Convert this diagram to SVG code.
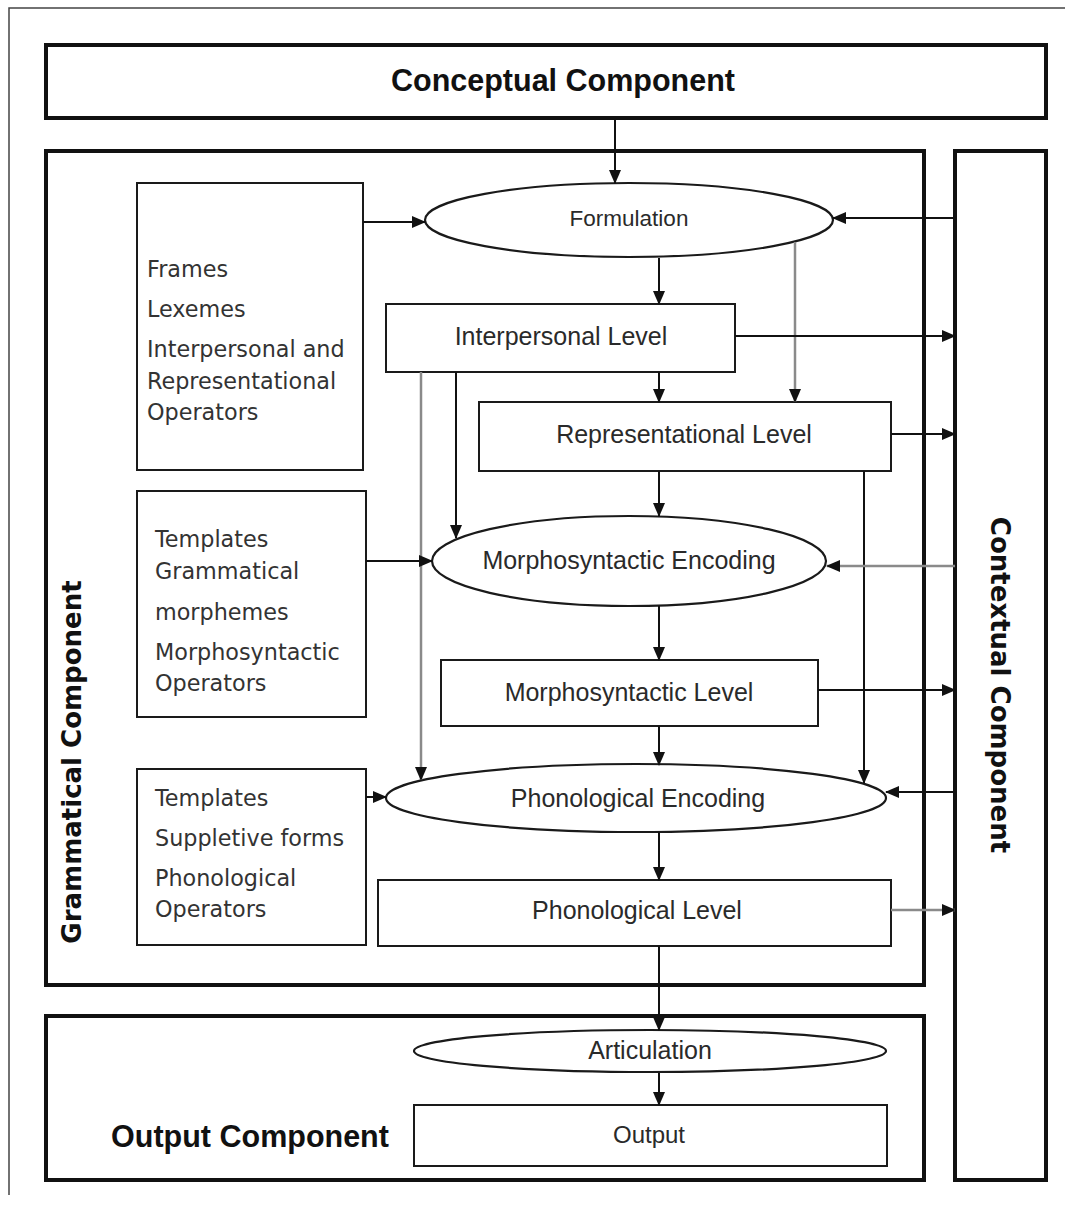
<svg xmlns="http://www.w3.org/2000/svg" width="1065" height="1209" viewBox="0 0 1065 1209">
<style>
.comp{fill:none;stroke:#111;stroke-width:4}
.node{fill:#fff;stroke:#1a1a1a;stroke-width:2}
.ell{fill:#fff;stroke:#1a1a1a;stroke-width:2.2}
.lab{font-family:"Liberation Sans",Arial,sans-serif;font-size:25px;fill:#2a2a2a;text-anchor:middle}
.side{font-family:"DejaVu Sans",Verdana,sans-serif;font-size:22.3px;fill:#333}
.big{font-family:"Liberation Sans",Arial,sans-serif;font-size:30.5px;font-weight:bold;fill:#111;text-anchor:middle}
.rot{font-family:"DejaVu Sans",Verdana,sans-serif;font-size:26px;font-weight:bold;fill:#111;text-anchor:middle}
.a{fill:none;stroke:#111;stroke-width:2;marker-end:url(#ah)}
.g{fill:none;stroke:#8a8a8a;stroke-width:2.5;marker-end:url(#ah)}
</style>
<defs>
<marker id="ah" markerUnits="userSpaceOnUse" markerWidth="14" markerHeight="12" refX="13" refY="6" orient="auto">
<path d="M0,0 L14,6 L0,12 Z" fill="#111"/>
</marker>
</defs>
<rect x="0" y="0" width="1065" height="1209" fill="#fff"/>
<path d="M9,1195 L9,8 L1065,8" fill="none" stroke="#444" stroke-width="1.5"/>

<g id="conceptual"><rect class="comp" x="46" y="45" width="1000" height="73"/><text class="big" x="563" y="91">Conceptual Component</text></g>
<g id="grammatical"><rect class="comp" x="46" y="151" width="878" height="834"/><text class="rot" transform="translate(81,762) rotate(-90)">Grammatical Component</text></g>
<g id="contextual"><rect class="comp" x="955" y="151" width="91" height="1029"/><text class="rot" transform="translate(991,685) rotate(90)">Contextual Component</text></g>
<g id="output-component"><rect class="comp" x="46" y="1016" width="878" height="164"/><text class="big" x="250" y="1147">Output Component</text></g>

<g id="frames"><rect class="node" x="137" y="183" width="226" height="287"/>
<text class="side" x="147" y="277">Frames</text><text class="side" x="147" y="317">Lexemes</text><text class="side" x="147" y="357">Interpersonal and</text><text class="side" x="147" y="389">Representational</text><text class="side" x="147" y="420">Operators</text></g>
<g id="templates1"><rect class="node" x="137" y="491" width="229" height="226"/>
<text class="side" x="155" y="547">Templates</text><text class="side" x="155" y="579">Grammatical</text><text class="side" x="155" y="620">morphemes</text><text class="side" x="155" y="660">Morphosyntactic</text><text class="side" x="155" y="691">Operators</text></g>
<g id="templates2"><rect class="node" x="137" y="769" width="229" height="176"/>
<text class="side" x="155" y="806">Templates</text><text class="side" x="155" y="846">Suppletive forms</text><text class="side" x="155" y="886">Phonological</text><text class="side" x="155" y="917">Operators</text></g>

<g id="formulation"><ellipse class="ell" cx="629" cy="220" rx="204" ry="37"/><text class="lab" x="629" y="226" style="font-size:22.5px">Formulation</text></g>
<g id="interpersonal"><rect class="node" x="386" y="304" width="349" height="68"/><text class="lab" x="561" y="345">Interpersonal Level</text></g>
<g id="representational"><rect class="node" x="479" y="402" width="412" height="69"/><text class="lab" x="684" y="443">Representational Level</text></g>
<g id="morph-enc"><ellipse class="ell" cx="629" cy="561" rx="197" ry="45"/><text class="lab" x="629" y="569">Morphosyntactic Encoding</text></g>
<g id="morph-level"><rect class="node" x="441" y="660" width="377" height="66"/><text class="lab" x="629" y="701">Morphosyntactic Level</text></g>
<g id="phon-enc"><ellipse class="ell" cx="636" cy="798" rx="250" ry="34"/><text class="lab" x="638" y="807">Phonological Encoding</text></g>
<g id="phon-level"><rect class="node" x="378" y="880" width="513" height="66"/><text class="lab" x="637" y="919">Phonological Level</text></g>
<g id="articulation"><ellipse class="ell" cx="650" cy="1051" rx="236" ry="21"/><text class="lab" x="650" y="1059">Articulation</text></g>
<g id="output"><rect class="node" x="414" y="1105" width="473" height="61"/><text class="lab" x="649" y="1143" style="font-size:24px">Output</text></g>

<g id="connectors">
<path class="a" d="M615,118 V183"/>
<path class="a" d="M363,222 H425"/>
<path class="a" d="M955,218 H833"/>
<path class="a" d="M659,258 V304"/>
<path class="g" d="M795,242 V402"/>
<path class="a" d="M735,336 H955"/>
<path class="a" d="M659,372 V402"/>
<path class="a" d="M891,434 H955"/>
<path class="a" d="M456,372 V538"/>
<path class="g" d="M421,372 V780"/>
<path class="a" d="M659,471 V516"/>
<path class="a" d="M864,471 V783"/>
<path class="a" d="M366,561 H432"/>
<path class="g" d="M955,566 H827"/>
<path class="a" d="M659,606 V660"/>
<path class="a" d="M818,690 H955"/>
<path class="a" d="M659,726 V765"/>
<path class="a" d="M366,797 H386"/>
<path class="a" d="M955,792 H886"/>
<path class="a" d="M659,832 V880"/>
<path class="g" d="M891,910 H955"/>
<path class="a" d="M659,946 V1030"/>
<path class="a" d="M659,1073 V1105"/>
</g>
</svg>
